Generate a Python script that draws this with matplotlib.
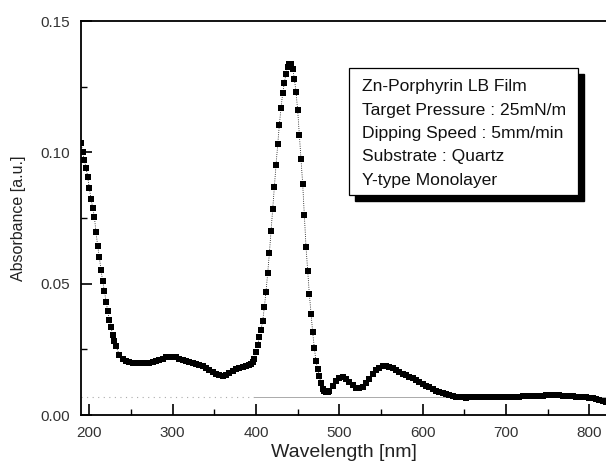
import matplotlib
matplotlib.use("Agg")
import matplotlib.pyplot as plt
from matplotlib.ticker import MultipleLocator
from matplotlib.patches import Rectangle

plt.rcParams['font.family'] = ['Liberation Sans', 'DejaVu Sans']

# wavelength [nm] and absorbance
wavelength = [190, 192, 194, 196, 198, 200, 202, 204, 206, 208, 210, 212, 214, 216,
              218, 220, 222, 224, 226, 228, 230, 232,
              236, 240, 244, 248, 252, 256, 260, 264, 268, 272, 276, 280, 284, 288,
              292, 296, 300, 304, 308, 312, 316, 320, 324, 328, 332, 336, 340, 344,
              348, 352, 356, 360, 364, 368, 372, 376, 380, 384, 388, 392,
              394, 396, 398, 400, 402, 404, 406, 408, 410, 412, 414, 416, 418, 420,
              422, 424, 426, 428, 430, 432, 434, 436, 438, 440, 442, 444, 446, 448,
              450, 452, 454, 456, 458, 460, 462, 464, 466, 468, 470, 472, 474, 476,
              478, 480, 482, 484, 486,
              488, 492, 496, 500, 504, 508, 512, 516, 520, 524, 528, 532, 536, 540,
              544, 548, 552, 556, 560, 564, 568, 572, 576, 580, 584, 588, 592, 596,
              600, 604, 608, 612, 616, 620, 624, 628, 632, 636, 640, 644, 648, 652,
              656, 660, 664, 668, 672, 676, 680, 684, 688, 692, 696, 700, 704, 708,
              712, 716, 720, 724, 728, 732, 736, 740, 744, 748, 752, 756, 760, 764,
              768, 772, 776, 780, 784, 788, 792, 796, 800, 804, 808, 812, 816, 820]
absorbance = [0.1036, 0.1000, 0.0970, 0.0942, 0.0906, 0.0865, 0.0822, 0.0790, 0.0755,
              0.0695, 0.0644, 0.0600, 0.0552, 0.0510, 0.0472, 0.0432, 0.0396, 0.0362,
              0.0334, 0.0305, 0.0280, 0.0262,
              0.0228, 0.0212, 0.0205, 0.0201, 0.0199, 0.0198, 0.0198, 0.0198, 0.0198,
              0.0199, 0.0200, 0.0204, 0.0210, 0.0215, 0.0219, 0.0221, 0.0221, 0.0219,
              0.0215, 0.0210, 0.0205, 0.0201, 0.0198, 0.0195, 0.0191, 0.0186, 0.0179,
              0.0172, 0.0165, 0.0158, 0.0152, 0.0149, 0.0151, 0.0160, 0.0169, 0.0176,
              0.0180, 0.0183, 0.0185, 0.0190,
              0.0194, 0.0200, 0.0215, 0.0240, 0.0268, 0.0298, 0.0325, 0.0358, 0.0410,
              0.0470, 0.0540, 0.0615, 0.0700, 0.0785, 0.0868, 0.0952, 0.1030, 0.1105,
              0.1170, 0.1225, 0.1265, 0.1300, 0.1325, 0.1338, 0.1336, 0.1318, 0.1280,
              0.1230, 0.1160, 0.1065, 0.0975, 0.0880, 0.0760, 0.0640, 0.0550, 0.0460,
              0.0385, 0.0315, 0.0255, 0.0205, 0.0175, 0.0148, 0.0122, 0.0100, 0.0090,
              0.0086, 0.0087,
              0.0092, 0.0112, 0.0130, 0.0141, 0.0144, 0.0138, 0.0125, 0.0113, 0.0104,
              0.0101, 0.0106, 0.0120, 0.0137, 0.0155, 0.0170, 0.0180, 0.0186, 0.0187,
              0.0184, 0.0178, 0.0172, 0.0165, 0.0158, 0.0151, 0.0145, 0.0140, 0.0133,
              0.0126, 0.0119, 0.0112, 0.0105, 0.0098, 0.0092, 0.0088, 0.0084, 0.0080,
              0.0076, 0.0073, 0.0070, 0.0068, 0.0067, 0.0066, 0.0067, 0.0068, 0.0068,
              0.0069, 0.0070, 0.0070, 0.0069, 0.0069, 0.0069, 0.0070, 0.0070, 0.0070,
              0.0070, 0.0070, 0.0070, 0.0070, 0.0071, 0.0071, 0.0072, 0.0072, 0.0073,
              0.0074, 0.0074, 0.0075, 0.0076, 0.0076, 0.0076, 0.0075, 0.0074, 0.0073,
              0.0072, 0.0071, 0.0070, 0.0070, 0.0069, 0.0068, 0.0066, 0.0063, 0.0060,
              0.0057, 0.0053, 0.0050]
baseline = 0.0069

info_lines = ['Zn-Porphyrin LB Film',
              'Target Pressure : 25mN/m',
              'Dipping Speed : 5mm/min',
              'Substrate : Quartz',
              'Y-type Monolayer']

fig = plt.figure(figsize=(6.06, 4.65), dpi=100)
ax = fig.add_axes([0.1337, 0.1075, 0.8663, 0.8473])

ax.axhline(baseline, xmax=0.33, color='#aaaaaa', lw=0.8, linestyle=(0, (1, 4)))
ax.axhline(baseline, xmin=0.33, color='#aaaaaa', lw=0.7)
ax.plot(wavelength, absorbance, color='black', lw=0.6, linestyle=':',
        marker='s', markersize=4.6, markeredgewidth=0)

ax.set_xlim(190, 820)
ax.set_ylim(0, 0.15)
ax.xaxis.set_major_locator(MultipleLocator(100))
ax.xaxis.set_minor_locator(MultipleLocator(50))
ax.yaxis.set_major_locator(MultipleLocator(0.05))
ax.yaxis.set_minor_locator(MultipleLocator(0.025))
ax.yaxis.set_major_formatter(matplotlib.ticker.FormatStrFormatter('%.2f'))
ax.tick_params(which='major', direction='in', length=8, width=1.2,
               labelsize=11, labelcolor='#333333', pad=8)
ax.tick_params(which='minor', direction='in', length=4.5, width=1.0)
ax.spines['right'].set_visible(False)
for s in ('left', 'bottom', 'top'):
    ax.spines[s].set_linewidth(1.3)

ax.set_xlabel('Wavelength [nm]', fontsize=14, color='#222222', labelpad=3)
ax.set_ylabel('Absorbance [a.u.]', fontsize=11.5, color='#222222', labelpad=10)

# text box with drop shadow (figure pixel coords)
bx0, by0, bw, bh = 349, 270, 229, 127
fig.patches.append(Rectangle((bx0 + 6, by0 - 6), bw, bh, transform=None,
                             facecolor='black', edgecolor='black', zorder=5))
fig.patches.append(Rectangle((bx0, by0), bw, bh, transform=None,
                             facecolor='white', edgecolor='black', lw=0.9, zorder=6))
for i, line in enumerate(info_lines):
    fig.text((bx0 + 13) / 606, (465 - 87 - i * 23.3) / 465, line, fontsize=12.6,
             color='#111111', va='center', ha='left', zorder=7)

fig.savefig('out.png', dpi=100)
